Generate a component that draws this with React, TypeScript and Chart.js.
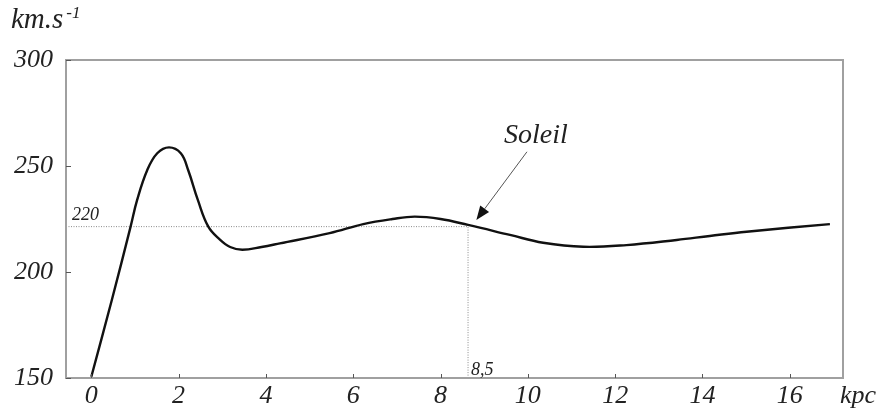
import React, { useEffect, useRef } from "react";
import { Chart, registerables } from "chart.js";

Chart.register(...registerables);

// Rotation curve of the Galaxy
const radiusKpc = [0, 0.47, 0.9, 1.05, 1.28, 1.51, 1.78, 2.05, 2.22, 2.44, 2.68, 2.94, 3.18, 3.46, 3.9, 4.32, 5.46, 6.23, 6.9, 7.41, 8.0, 8.63, 9.59, 10.35, 11.27, 12.26, 13.41, 14.17, 15.01, 16.92];
const speedKms = [150.6, 186.8, 221.4, 234, 248, 256, 258.8, 256, 248, 234, 221.4, 215.4, 211.8, 210.5, 211.8, 213.5, 218.3, 222.6, 225, 226.1, 225, 222.2, 217.5, 213.8, 211.9, 212.7, 215.1, 217, 219, 222.6];

const xTicks = [0, 2, 4, 6, 8, 10, 12, 14, 16];
const yTicks = [150, 200, 250, 300];
const xRange = [-0.58, 17.22];
const yRange = [150, 300];

// Sun reference (drawn position / printed label)
const sunX = 8.63;
const sunV = 221.4;
const sunXLabel = "8,5";
const sunVLabel = "220";

const FONT = '"Liberation Serif"';

const decorPlugin = {
  id: "decor",
  afterDraw(chart: any) {
    const { ctx, chartArea } = chart;
    const xs = chart.scales.x;
    const ys = chart.scales.y;
    ctx.save();
    // frame
    ctx.strokeStyle = "#a0a0a0";
    ctx.lineWidth = 2;
    ctx.strokeRect(chartArea.left, chartArea.top, chartArea.right - chartArea.left, chartArea.bottom - chartArea.top);
    // inner ticks
    ctx.lineWidth = 1;
    ctx.strokeStyle = "#555";
    ctx.beginPath();
    xTicks.forEach((v) => {
      const px = Math.round(xs.getPixelForValue(v)) + 0.5;
      ctx.moveTo(px, chartArea.bottom);
      ctx.lineTo(px, chartArea.bottom - 4);
    });
    yTicks.forEach((v) => {
      const py = Math.round(ys.getPixelForValue(v)) + 0.5;
      ctx.moveTo(chartArea.left, py);
      ctx.lineTo(chartArea.left + 5, py);
    });
    ctx.stroke();

    ctx.fillStyle = "#222";
    ctx.textBaseline = "alphabetic";
    ctx.textAlign = "left";
    // axis titles
    ctx.font = `italic 29px ${FONT}`;
    ctx.fillText("km.s", 11, 28);
    const w = ctx.measureText("km.s").width;
    ctx.font = `italic 17px ${FONT}`;
    ctx.fillText("-1", 11 + w + 3, 18);
    ctx.font = `italic 26px ${FONT}`;
    ctx.fillText("kpc", 840, 403);

    // reference labels
    const sx = xs.getPixelForValue(sunX);
    const sy = ys.getPixelForValue(sunV);
    ctx.font = `italic 18px ${FONT}`;
    ctx.fillText(sunVLabel, chartArea.left + 6, sy - 7);
    ctx.font = `italic 18px ${FONT}`;
    ctx.fillText(sunXLabel, sx + 3, chartArea.bottom - 3);

    // Soleil label + arrow
    ctx.font = `italic 28px ${FONT}`;
    ctx.fillText("Soleil", 504, 143);
    const tailX = xs.getPixelForValue(9.98), tailY = ys.getPixelForValue(256.7);
    const tipX = xs.getPixelForValue(8.82), tipY = ys.getPixelForValue(224.5);
    const ang = Math.atan2(tipY - tailY, tipX - tailX);
    const headLen = 14, headW = 5.5;
    const bx = tipX - headLen * Math.cos(ang), by = tipY - headLen * Math.sin(ang);
    ctx.strokeStyle = "#555";
    ctx.lineWidth = 1;
    ctx.beginPath();
    ctx.moveTo(tailX, tailY);
    ctx.lineTo(bx, by);
    ctx.stroke();
    ctx.fillStyle = "#111";
    ctx.beginPath();
    ctx.moveTo(tipX, tipY);
    ctx.lineTo(bx + headW * Math.sin(ang), by - headW * Math.cos(ang));
    ctx.lineTo(bx - headW * Math.sin(ang), by + headW * Math.cos(ang));
    ctx.closePath();
    ctx.fill();
    ctx.restore();
  },
};

export default function App() {
  const ref = useRef<HTMLCanvasElement | null>(null);
  useEffect(() => {
    if (!ref.current) return;
    const chart = new Chart(ref.current, {
      type: "line",
      data: {
        datasets: [
          {
            data: radiusKpc.map((x, i) => ({ x, y: speedKms[i] })),
            borderColor: "#111",
            borderWidth: 2.4,
            pointRadius: 0,
            tension: 0.4,
            fill: false,
          },
          {
            data: [
              { x: xRange[0], y: sunV },
              { x: sunX, y: sunV },
              { x: sunX, y: yRange[0] },
            ],
            borderColor: "#8a8a8a",
            borderWidth: 1,
            borderDash: [1, 1.5],
            pointRadius: 0,
            tension: 0,
            fill: false,
          },
        ],
      },
      options: {
        animation: false,
        responsive: false,
        events: [],
        layout: { padding: { top: 60, right: 40, left: 0, bottom: 0 } },
        plugins: { legend: { display: false }, tooltip: { enabled: false } },
        scales: {
          x: {
            type: "linear",
            min: xRange[0],
            max: xRange[1],
            grid: { display: false, drawTicks: false },
            border: { display: false },
            afterBuildTicks: (s: any) => {
              s.ticks = xTicks.map((v) => ({ value: v }));
            },
            afterFit: (s: any) => {
              s.height = 33;
            },
            ticks: {
              padding: 3,
              color: "#222",
              font: { family: FONT, style: "italic", size: 26 },
              maxRotation: 0,
              autoSkip: false,
            },
          },
          y: {
            type: "linear",
            min: yRange[0],
            max: yRange[1],
            grid: { display: false, drawTicks: false },
            border: { display: false },
            afterBuildTicks: (s: any) => {
              s.ticks = yTicks.map((v) => ({ value: v }));
            },
            afterFit: (s: any) => {
              s.width = 66;
            },
            ticks: {
              padding: 13,
              color: "#222",
              font: { family: FONT, style: "italic", size: 26 },
            },
          },
        },
      },
      plugins: [decorPlugin],
    } as any);
    return () => chart.destroy();
  }, []);
  return (
    <div style={{ position: "absolute", left: 0, top: 0, width: 883, height: 411, background: "#fff" }}>
      <canvas ref={ref} width={883} height={411} style={{ display: "block" }} />
    </div>
  );
}
